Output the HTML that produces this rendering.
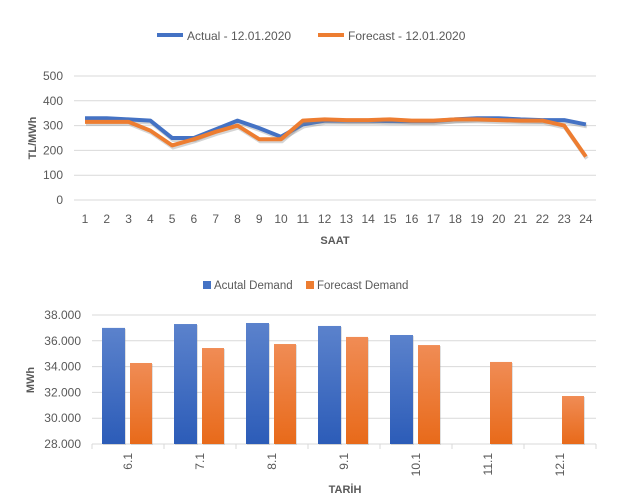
<!DOCTYPE html>
<html><head><meta charset="utf-8"><style>
body{margin:0;background:#fff;}
svg{display:block;font-family:"Liberation Sans",sans-serif;}
</style></head><body>
<svg id="s" width="636" height="500" xmlns="http://www.w3.org/2000/svg">
<defs>
<linearGradient id="gb" x1="0" y1="0" x2="0" y2="1"><stop offset="0" stop-color="#5b82cc"/><stop offset="1" stop-color="#2c5cb8"/></linearGradient>
<linearGradient id="go" x1="0" y1="0" x2="0" y2="1"><stop offset="0" stop-color="#f08c55"/><stop offset="1" stop-color="#e86a1a"/></linearGradient>
</defs>
<g id="g"></g>
</svg>
<script>
var g=document.getElementById('g'),h='';
function T(x,y,t,o){h+='<text x="'+x+'" y="'+y+'" '+(o||'')+'>'+t+'</text>';}
h+='<line x1="157" y1="35" x2="183" y2="35" stroke="#4472c4" stroke-width="4"/>';
T(187,40,'Actual - 12.01.2020','font-size="12" fill="#595959"');
h+='<line x1="318" y1="35" x2="344" y2="35" stroke="#ed7d31" stroke-width="4"/>';
T(348,40,'Forecast - 12.01.2020','font-size="12" fill="#595959"');
var yv=function(v){return 200-v*0.248;};
for(var i=0;i<=5;i++){var y=yv(i*100);h+='<line x1="74" x2="596" y1="'+y+'" y2="'+y+'" stroke="#d9d9d9"/>';T(63,y+4,i*100,'font-size="12" fill="#595959" text-anchor="end"');}
var xv=function(i){return 85+i*21.78;};
for(var i=0;i<24;i++)T(xv(i),223,i+1,'font-size="12" fill="#595959" text-anchor="middle"');
T(335,244,'SAAT','font-size="11" font-weight="bold" fill="#595959" text-anchor="middle"');
T(0,0,'TL/MWh','font-size="11" font-weight="bold" fill="#595959" text-anchor="middle" transform="translate(36,138) rotate(-90)"');
var A=[330,330,325,320,250,250,285,320,290,255,305,320,320,320,318,318,318,325,330,330,325,322,322,305];
var F=[315,315,315,280,220,245,275,300,245,245,320,325,322,322,325,320,320,325,325,322,320,320,300,175];
function P(a,c){var p=a.map(function(v,i){return xv(i).toFixed(1)+','+yv(v).toFixed(1);}).join(' ');h+='<polyline points="'+p+'" fill="none" stroke="#888" stroke-opacity="0.35" stroke-width="4" transform="translate(1,2)"/><polyline points="'+p+'" fill="none" stroke="'+c+'" stroke-width="4" stroke-linejoin="round"/>';}
P(A,'#4472c4');P(F,'#ed7d31');
h+='<rect x="203" y="281" width="8" height="8" fill="#4472c4"/>';T(214,289,'Acutal Demand','font-size="11.5" fill="#595959"');
h+='<rect x="306" y="281" width="8" height="8" fill="#ed7d31"/>';T(317,289,'Forecast Demand','font-size="11.5" fill="#595959"');
var by=function(v){return 444-(v-28000)*0.0129;};
var labs=['28.000','30.000','32.000','34.000','36.000','38.000'];
for(var i=0;i<6;i++){var y=by(28000+i*2000);h+='<line x1="92" x2="596" y1="'+y+'" y2="'+y+'" stroke="#d9d9d9"/>';T(81,y+4,labs[i],'font-size="12" fill="#595959" text-anchor="end"');}
for(var i=0;i<8;i++){var x=92+i*72;h+='<line x1="'+x+'" x2="'+x+'" y1="444" y2="449" stroke="#d9d9d9"/>';}
var BA=[37000,37300,37380,37150,36450,null,null],BF=[34280,35440,35750,36300,35670,34360,31720],C=['6.1','7.1','8.1','9.1','10.1','11.1','12.1'];
for(var i=0;i<7;i++){var x=92+i*72;
if(BA[i]){var t=by(BA[i]);h+='<rect x="'+(x+11)+'" y="'+(t+1)+'" width="23" height="'+(444-t)+'" fill="#999" opacity="0.3"/><rect x="'+(x+10)+'" y="'+t+'" width="23" height="'+(444-t)+'" fill="url(#gb)"/>';}
var t=by(BF[i]);h+='<rect x="'+(x+39)+'" y="'+(t+1)+'" width="22" height="'+(444-t)+'" fill="#999" opacity="0.3"/><rect x="'+(x+38)+'" y="'+t+'" width="22" height="'+(444-t)+'" fill="url(#go)"/>';
T(0,0,C[i],'font-size="12" fill="#595959" text-anchor="end" transform="translate('+(x+40)+',453) rotate(-90)"');}
T(345,493,'TARİH','font-size="11" font-weight="bold" fill="#595959" text-anchor="middle"');
T(0,0,'MWh','font-size="11" font-weight="bold" fill="#595959" text-anchor="middle" transform="translate(34,380) rotate(-90)"');
g.innerHTML=h;
</script>
</body></html>
